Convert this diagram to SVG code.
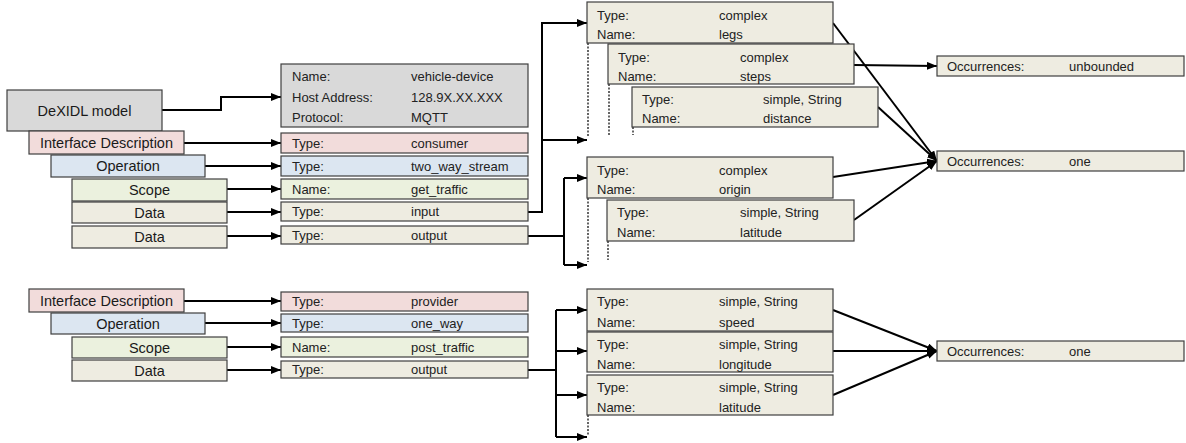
<svg xmlns="http://www.w3.org/2000/svg" width="1186" height="443" viewBox="0 0 1186 443">
<defs>
<marker id="ah" markerUnits="userSpaceOnUse" markerWidth="10" markerHeight="8" refX="10" refY="4" orient="auto">
<path d="M0,0 L10,4 L0,8 z" fill="#000"/>
</marker>
<style>
.b{stroke:#3f3f3f;stroke-width:1.2}
.g{fill:#d9d9d9}.pk{fill:#f2dcdb}.bl{fill:#dce6f1}.gr{fill:#ebf1de}.tn{fill:#eeece1}
.L{font-family:"Liberation Sans",Arial,sans-serif;font-size:14.5px;fill:#1a1a1a;text-anchor:middle}
.s{font-family:"Liberation Sans",Arial,sans-serif;font-size:13px;fill:#222}
.c{fill:none;stroke:#000;stroke-width:2}
.a{marker-end:url(#ah)}
.d{fill:none;stroke:#333;stroke-width:1.5;stroke-dasharray:2,1.5}
</style>
</defs>
<rect width="1186" height="443" fill="#fff"/>

<g id="connectors">
<path class="c a" d="M162,110 H221 V97 H281"/>
<path class="c a" d="M184,143 H281"/>
<path class="c a" d="M205,166 H281"/>
<path class="c a" d="M227,189 H281"/>
<path class="c a" d="M227,212 H281"/>
<path class="c a" d="M227,236 H281"/>
<path class="c a" d="M184,301 H281"/>
<path class="c a" d="M205,323 H281"/>
<path class="c a" d="M227,347 H281"/>
<path class="c a" d="M227,370 H281"/>
<path class="c a" d="M528,212 H542 V23 H587"/>
<path class="c a" d="M542,140 H587"/>
<path class="c" d="M528,236 H564 M564,178 V265"/>
<path class="c a" d="M564,178 H587"/>
<path class="c a" d="M564,265 H587"/>
<path class="c" d="M528,370 H556 M556,310 V437"/>
<path class="c a" d="M556,310 H587"/>
<path class="c a" d="M556,351 H587"/>
<path class="c a" d="M556,395 H587"/>
<path class="c a" d="M556,437 H587"/>
<path class="c a" d="M854,65 L937,66"/>
<path class="c a" d="M833,23 L937,161"/>
<path class="c a" d="M878,107 L937,161"/>
<path class="c a" d="M833,177 L937,161"/>
<path class="c a" d="M854,220 L937,161"/>
<path class="c a" d="M833,310 L937,351"/>
<path class="c a" d="M833,351 L937,351"/>
<path class="c a" d="M833,395 L937,351"/>
<path class="d" d="M588,43 V137 M609,84 V135 M633,127 V135 M588,198 V262 M608,241 V260 M588,415 V435"/>
</g>

<g id="n-dexidl"><rect class="b g" x="7" y="90" width="155" height="41"/><text class="L" x="84.5" y="115.5">DeXIDL model</text></g>
<g id="n-id1"><rect class="b pk" x="29" y="131" width="155" height="23"/><text class="L" x="106.5" y="147.5">Interface Description</text></g>
<g id="n-op1"><rect class="b bl" x="51" y="155" width="154" height="22"/><text class="L" x="128" y="171">Operation</text></g>
<g id="n-scope1"><rect class="b gr" x="72" y="179" width="155" height="22"/><text class="L" x="149.5" y="195">Scope</text></g>
<g id="n-data1"><rect class="b tn" x="72" y="202" width="155" height="21"/><text class="L" x="149.5" y="217.5">Data</text></g>
<g id="n-data2"><rect class="b tn" x="72" y="226" width="155" height="22"/><text class="L" x="149.5" y="242">Data</text></g>

<g id="n-id2"><rect class="b pk" x="29" y="289" width="155" height="23"/><text class="L" x="106.5" y="305.5">Interface Description</text></g>
<g id="n-op2"><rect class="b bl" x="51" y="313" width="154" height="21"/><text class="L" x="128" y="328.5">Operation</text></g>
<g id="n-scope2"><rect class="b gr" x="72" y="337" width="155" height="21"/><text class="L" x="149.5" y="352.5">Scope</text></g>
<g id="n-data3"><rect class="b tn" x="72" y="360" width="155" height="21"/><text class="L" x="149.5" y="375.5">Data</text></g>

<g id="n-device"><rect class="b g" x="281" y="64" width="247" height="63"/>
<text class="s" x="292" y="80.5">Name:</text><text class="s" x="411" y="80.5">vehicle-device</text>
<text class="s" x="292" y="101.5">Host Address:</text><text class="s" x="411" y="101.5">128.9X.XX.XXX</text>
<text class="s" x="292" y="121.5">Protocol:</text><text class="s" x="411" y="121.5">MQTT</text></g>
<g id="n-consumer"><rect class="b pk" x="281" y="133" width="247" height="20"/><text class="s" x="292" y="147.5">Type:</text><text class="s" x="411" y="147.5">consumer</text></g>
<g id="n-twoway"><rect class="b bl" x="281" y="156" width="247" height="20"/><text class="s" x="292" y="170.5">Type:</text><text class="s" x="411" y="170.5">two_way_stream</text></g>
<g id="n-gettraffic"><rect class="b gr" x="281" y="179" width="247" height="20"/><text class="s" x="292" y="193.5">Name:</text><text class="s" x="411" y="193.5">get_traffic</text></g>
<g id="n-input"><rect class="b tn" x="281" y="202" width="247" height="19"/><text class="s" x="292" y="216">Type:</text><text class="s" x="411" y="216">input</text></g>
<g id="n-output1"><rect class="b tn" x="281" y="226" width="247" height="18"/><text class="s" x="292" y="239.5">Type:</text><text class="s" x="411" y="239.5">output</text></g>

<g id="n-provider"><rect class="b pk" x="281" y="292" width="247" height="19"/><text class="s" x="292" y="306">Type:</text><text class="s" x="411" y="306">provider</text></g>
<g id="n-oneway"><rect class="b bl" x="281" y="314" width="247" height="18"/><text class="s" x="292" y="327.5">Type:</text><text class="s" x="411" y="327.5">one_way</text></g>
<g id="n-posttraffic"><rect class="b gr" x="281" y="337" width="247" height="20"/><text class="s" x="292" y="351.5">Name:</text><text class="s" x="411" y="351.5">post_traffic</text></g>
<g id="n-output2"><rect class="b tn" x="281" y="361" width="247" height="17"/><text class="s" x="292" y="374">Type:</text><text class="s" x="411" y="374">output</text></g>

<g id="n-legs"><rect class="b tn" x="587" y="2" width="246" height="41"/><text class="s" x="597" y="19.5">Type:</text><text class="s" x="719" y="19.5">complex</text><text class="s" x="597" y="38.5">Name:</text><text class="s" x="719" y="38.5">legs</text></g>
<g id="n-steps"><rect class="b tn" x="608" y="44" width="246" height="40"/><text class="s" x="618" y="61.5">Type:</text><text class="s" x="740" y="61.5">complex</text><text class="s" x="618" y="80.5">Name:</text><text class="s" x="740" y="80.5">steps</text></g>
<g id="n-distance"><rect class="b tn" x="632" y="87" width="246" height="40"/><text class="s" x="642" y="103.5">Type:</text><text class="s" x="763" y="103.5">simple, String</text><text class="s" x="642" y="122.5">Name:</text><text class="s" x="763" y="122.5">distance</text></g>
<g id="n-origin"><rect class="b tn" x="587" y="157" width="246" height="41"/><text class="s" x="597" y="174.5">Type:</text><text class="s" x="719" y="174.5">complex</text><text class="s" x="597" y="193.5">Name:</text><text class="s" x="719" y="193.5">origin</text></g>
<g id="n-latitude1"><rect class="b tn" x="607" y="200" width="247" height="41"/><text class="s" x="617" y="216.5">Type:</text><text class="s" x="740" y="216.5">simple, String</text><text class="s" x="617" y="236.5">Name:</text><text class="s" x="740" y="236.5">latitude</text></g>

<g id="n-speed"><rect class="b tn" x="587" y="289" width="246" height="42"/><text class="s" x="597" y="305.5">Type:</text><text class="s" x="719" y="305.5">simple, String</text><text class="s" x="597" y="326.5">Name:</text><text class="s" x="719" y="326.5">speed</text></g>
<g id="n-longitude"><rect class="b tn" x="587" y="332" width="246" height="40"/><text class="s" x="597" y="348.5">Type:</text><text class="s" x="719" y="348.5">simple, String</text><text class="s" x="597" y="368.5">Name:</text><text class="s" x="719" y="368.5">longitude</text></g>
<g id="n-latitude2"><rect class="b tn" x="587" y="375" width="246" height="40"/><text class="s" x="597" y="391.5">Type:</text><text class="s" x="719" y="391.5">simple, String</text><text class="s" x="597" y="411.5">Name:</text><text class="s" x="719" y="411.5">latitude</text></g>

<g id="n-occ-unbounded"><rect class="b tn" x="937" y="56" width="247" height="20"/><text class="s" x="947" y="70.5">Occurrences:</text><text class="s" x="1069" y="70.5">unbounded</text></g>
<g id="n-occ-one1"><rect class="b tn" x="937" y="151" width="247" height="20"/><text class="s" x="947" y="165.5">Occurrences:</text><text class="s" x="1069" y="165.5">one</text></g>
<g id="n-occ-one2"><rect class="b tn" x="937" y="341" width="247" height="20"/><text class="s" x="947" y="355.5">Occurrences:</text><text class="s" x="1069" y="355.5">one</text></g>
</svg>
